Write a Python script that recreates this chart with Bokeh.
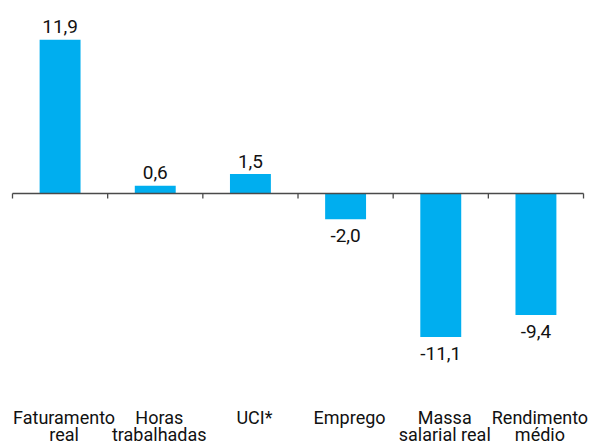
from bokeh.plotting import figure
from bokeh.models import Range1d, ColumnDataSource
from bokeh.core.properties import value
from bokeh.embed import file_html
from bokeh.resources import INLINE

categories = ["Faturamento\nreal", "Horas\ntrabalhadas", "UCI*", "Emprego",
              "Massa\nsalarial real", "Rendimento\nmédio"]
values = [11.9, 0.6, 1.5, -2.0, -11.1, -9.4]

FONT = "Roboto"
BAR_COLOR = "#00AEEF"
TEXT_COLOR = "#111111"
AXIS_COLOR = "#4a4a4a"

W, H = 592, 446
PX_X = 95.17   # pixels per category
PX_Y = 12.93   # pixels per unit
x_start = -12 / PX_X
y_top = 193 / PX_Y
y_bottom = y_top - H / PX_Y

n = len(categories)
centers = [i + 0.5 for i in range(n)]
labels = [f"{v:.1f}".replace(".", ",") for v in values]

p = figure(width=W, height=H,
           x_range=Range1d(x_start, x_start + W / PX_X),
           y_range=Range1d(y_bottom, y_top),
           output_backend="svg", toolbar_location=None, min_border=0,
           x_axis_location=None, y_axis_location=None)
p.grid.visible = False
p.outline_line_color = None
p.background_fill_color = "white"
p.border_fill_color = "white"

# bars
p.vbar(x=centers, top=values, bottom=0, width=0.43, fill_color=BAR_COLOR, line_color=None)

# zero axis line and tick marks at category boundaries
p.segment(x0=[0], y0=[0], x1=[n], y1=[0], line_color=AXIS_COLOR, line_width=1.3)
bounds = list(range(n + 1))
p.segment(x0=bounds, y0=[0] * len(bounds), x1=bounds, y1=[-5 / PX_Y] * len(bounds),
          line_color=AXIS_COLOR, line_width=1.3)

# value labels
pos = ColumnDataSource(dict(x=[c for c, v in zip(centers, values) if v >= 0],
                            y=[v for v in values if v >= 0],
                            t=[l for l, v in zip(labels, values) if v >= 0]))
neg = ColumnDataSource(dict(x=[c for c, v in zip(centers, values) if v < 0],
                            y=[v for v in values if v < 0],
                            t=[l for l, v in zip(labels, values) if v < 0]))
p.text(x="x", y="y", text="t", source=pos, text_align="center", text_baseline="alphabetic",
       y_offset=-13, text_font=value(FONT), text_font_size="19px", text_color=TEXT_COLOR)
p.text(x="x", y="y", text="t", source=neg, text_align="center", text_baseline="alphabetic",
       y_offset=16.5, text_font=value(FONT), text_font_size="19px", text_color=TEXT_COLOR)

# category labels (two lines)
line1 = [c.split("\n")[0] for c in categories]
line2 = [c.split("\n")[1] if "\n" in c else "" for c in categories]
p.text(x=centers, y=[y_bottom] * n, text=line1, text_align="center", text_baseline="alphabetic",
       x_offset=4, y_offset=-29, text_font=value(FONT), text_font_size="18px", text_color=TEXT_COLOR)
p.text(x=centers, y=[y_bottom] * n, text=line2, text_align="center", text_baseline="alphabetic",
       x_offset=4, y_offset=-12, text_font=value(FONT), text_font_size="18px", text_color=TEXT_COLOR)

open("out.html", "w").write(file_html(p, INLINE))
